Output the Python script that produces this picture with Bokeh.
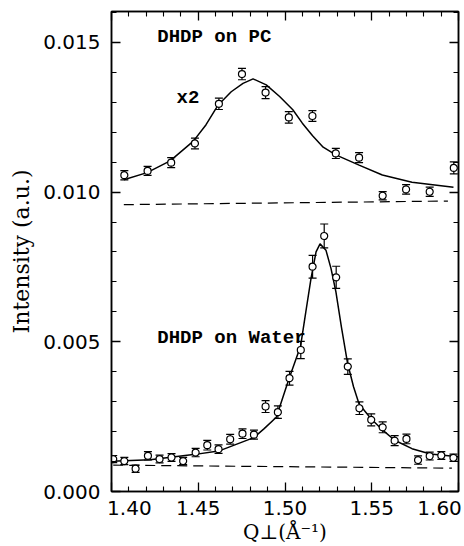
from bokeh.plotting import figure
from bokeh.models import (LinearAxis, FixedTicker, Range1d, Whisker, TeeHead,
                          ColumnDataSource, NumeralTickFormatter,
                          CustomLabelingPolicy)
from bokeh.core.properties import value
from bokeh.embed import file_html
from bokeh.resources import INLINE

# ---------------- data ----------------
# DHDP on PC (x2), measured points
pc_q = [1.4074, 1.4208, 1.4344, 1.4481, 1.4619, 1.4752, 1.4888, 1.5022,
        1.5158, 1.5293, 1.5427, 1.5563, 1.5698, 1.5834, 1.5973]
pc_i = [0.010563, 0.010705, 0.010983, 0.011623, 0.012947, 0.013940, 0.013321,
        0.012493, 0.012540, 0.011291, 0.011149, 0.009877, 0.010089, 0.010010,
        0.010805]
pc_err = [0.000155, 0.00015, 0.000166, 0.00018, 0.00019, 0.00019, 0.0002,
          0.00019, 0.00018, 0.00017, 0.000166, 0.00014, 0.00016, 0.000155,
          0.0002]

# DHDP on PC fit curve and background
pc_fit_q = [1.4071, 1.4205, 1.4338, 1.4472, 1.4545, 1.4615, 1.4690, 1.4758,
            1.4816, 1.4892, 1.4969, 1.5045, 1.5100, 1.5159, 1.5220, 1.5293,
            1.5427, 1.5561, 1.5732, 1.5971]
pc_fit_i = [0.01041, 0.01065, 0.01104, 0.01170, 0.01225, 0.01291, 0.01335,
            0.01363, 0.01378, 0.01358, 0.01319, 0.01275, 0.01230, 0.01188,
            0.01150, 0.01124, 0.01090, 0.01057, 0.01033, 0.01016]
pc_bg_q = [1.4071, 1.5939]
pc_bg_i = [0.00958, 0.00970]

# DHDP on Water, measured points
w_q = [1.4010, 1.4074, 1.4139, 1.4210, 1.4277, 1.4346, 1.4413, 1.4485,
       1.4552, 1.4617, 1.4684, 1.4755, 1.4821, 1.4888, 1.4959, 1.5026,
       1.5091, 1.5159, 1.5226, 1.5295, 1.5362, 1.5429, 1.5497, 1.5563,
       1.5632, 1.5700, 1.5767, 1.5834, 1.5901, 1.5971]
w_i = [0.001083, 0.001017, 0.000762, 0.001192, 0.001083, 0.001136, 0.001017,
       0.001301, 0.001546, 0.001414, 0.001745, 0.001930, 0.001897, 0.002838,
       0.002649, 0.003785, 0.004725, 0.007507, 0.008533, 0.007152, 0.004172,
       0.002781, 0.002394, 0.002142, 0.001699, 0.001755, 0.001050, 0.001182,
       0.001202, 0.001126]
w_err = [0.00012, 0.00012, 0.00012, 0.00014, 0.00013, 0.00013, 0.00012,
         0.00014, 0.00016, 0.00014, 0.00016, 0.00016, 0.00015, 0.0002,
         0.00021, 0.00023, 0.00029, 0.00038, 0.0004, 0.00037, 0.00026,
         0.00021, 0.0002, 0.00018, 0.00017, 0.00016, 0.00014, 0.00013,
         0.00013, 0.00012]

# DHDP on Water fit curve and background
w_fit_q = [1.4000, 1.4223, 1.4483, 1.4617, 1.4820, 1.4880, 1.4950, 1.5022,
           1.5090, 1.5120, 1.5150, 1.5179, 1.5202, 1.5236, 1.5265, 1.5293,
           1.5325, 1.5360, 1.5395, 1.5427, 1.5496, 1.5565, 1.5632, 1.5732,
           1.5838, 1.6000]
w_fit_i = [0.00101, 0.00106, 0.00124, 0.00135, 0.00180, 0.00210, 0.00248,
           0.00375, 0.00486, 0.00600, 0.00712, 0.00800, 0.00827, 0.00806,
           0.00745, 0.00668, 0.00550, 0.00430, 0.00350, 0.00292, 0.00243,
           0.00204, 0.00171, 0.00143, 0.00125, 0.00116]
w_bg_q = [1.4010, 1.5962]
w_bg_i = [0.00088, 0.00078]

# ticks
x_major = [1.40, 1.45, 1.50, 1.55, 1.60]
x_minor = [1.41, 1.42, 1.43, 1.44, 1.46, 1.47, 1.48, 1.49, 1.51, 1.52,
           1.53, 1.54, 1.56, 1.57, 1.58, 1.59]
x_label_pos = [1.4103, 1.45, 1.50, 1.55, 1.5891]
x_label_txt = ["1.40", "1.45", "1.50", "1.55", "1.60"]
y_major = [0.0, 0.005, 0.010, 0.015]
y_minor = [0.001, 0.002, 0.003, 0.004, 0.006, 0.007, 0.008, 0.009,
           0.011, 0.012, 0.013, 0.014, 0.016]

# ---------------- figure ----------------
p = figure(width=464, height=546, x_range=Range1d(1.40, 1.60),
           y_range=Range1d(0.0, 0.01603), output_backend="svg",
           toolbar_location=None, min_border_left=111, min_border_right=4,
           min_border_top=11, min_border_bottom=52)
p.grid.visible = False
p.outline_line_color = "black"
p.outline_line_width = 1.5
p.background_fill_color = "white"
p.border_fill_color = "white"

no_labels = CustomLabelingPolicy(code="return new Set()")

def tick_style(ax, major, minor, labels=True):
    ax.ticker = FixedTicker(ticks=major, minor_ticks=minor)
    ax.major_tick_in = 9
    ax.major_tick_out = 0
    ax.minor_tick_in = 5
    ax.minor_tick_out = 0
    ax.major_tick_line_width = 1.3
    ax.minor_tick_line_width = 1.1
    ax.axis_line_width = 1.5
    ax.axis_line_color = "black"
    if not labels:
        ax.major_label_policy = no_labels
        ax.major_label_text_font_size = "1px"
        ax.major_label_standoff = 0
        ax.axis_label_standoff = 0

# bottom axis: ticks only
xa = p.xaxis[0]
tick_style(xa, x_major, x_minor, labels=False)

# bottom label axis
xl = LinearAxis(ticker=FixedTicker(ticks=x_label_pos),
                major_label_overrides=dict(zip(x_label_pos, x_label_txt)),
                major_tick_in=0, major_tick_out=0, minor_tick_in=0,
                minor_tick_out=0, axis_line_color=None)
xl.major_label_text_font = "DejaVu Sans"
xl.major_label_text_font_size = "20px"
xl.major_label_text_color = "black"
xl.major_label_standoff = 5
xl.axis_label = "Q⊥(Å⁻¹)"
xl.axis_label_text_font = "DejaVu Serif"
xl.axis_label_text_font_size = "20px"
xl.axis_label_text_font_style = "normal"
xl.axis_label_text_color = "black"
xl.axis_label_standoff = 2
p.add_layout(xl, "below")

# top axis: ticks only
xt = LinearAxis()
tick_style(xt, x_major, x_minor, labels=False)
p.add_layout(xt, "above")

# left axis
ya = p.yaxis[0]
tick_style(ya, y_major, y_minor)
ya.formatter = NumeralTickFormatter(format="0.000")
ya.major_label_text_font = "DejaVu Sans"
ya.major_label_text_font_size = "20px"
ya.major_label_text_color = "black"
ya.major_label_standoff = 11
ya.axis_label = "Intensity (a.u.)"
ya.axis_label_text_font = "DejaVu Serif"
ya.axis_label_text_font_size = "22px"
ya.axis_label_text_font_style = "normal"
ya.axis_label_text_color = "black"
ya.axis_label_standoff = 6

# right axis: ticks only
yr = LinearAxis()
tick_style(yr, y_major, y_minor, labels=False)
p.add_layout(yr, "right")

# ---------------- glyphs ----------------
p.line(pc_bg_q, pc_bg_i, line_color="black", line_width=1.2, line_dash="10 6")
p.line(w_bg_q, w_bg_i, line_color="black", line_width=1.2, line_dash="10 6")
p.line(pc_fit_q, pc_fit_i, line_color="black", line_width=1.5)
p.line(w_fit_q, w_fit_i, line_color="black", line_width=1.5)

for q, i, e in ((pc_q, pc_i, pc_err), (w_q, w_i, w_err)):
    src = ColumnDataSource(dict(q=q, i=i,
                                lo=[a - b for a, b in zip(i, e)],
                                hi=[a + b for a, b in zip(i, e)]))
    wh = Whisker(source=src, base="q", upper="hi", lower="lo",
                 line_color="black", line_width=1.2,
                 upper_head=TeeHead(size=8, line_width=1.2, line_color="black"),
                 lower_head=TeeHead(size=8, line_width=1.2, line_color="black"))
    p.add_layout(wh)
    p.scatter("q", "i", source=src, marker="circle", size=7,
              fill_color="white", line_color="black", line_width=1.2)

# ---------------- text ----------------
txt_kw = dict(text_font=value("Liberation Mono"), text_font_style="bold",
              text_font_size="19px", text_color="black",
              text_baseline="middle", text_align="left")
p.text(x=[1.4264], y=[0.01517], text=["DHDP on PC"], **txt_kw)
p.text(x=[1.4375], y=[0.01315], text=["x2"], **txt_kw)
p.text(x=[1.4264], y=[0.00513], text=["DHDP on Water"], **txt_kw)

open("out.html", "w").write(file_html(p, INLINE))
